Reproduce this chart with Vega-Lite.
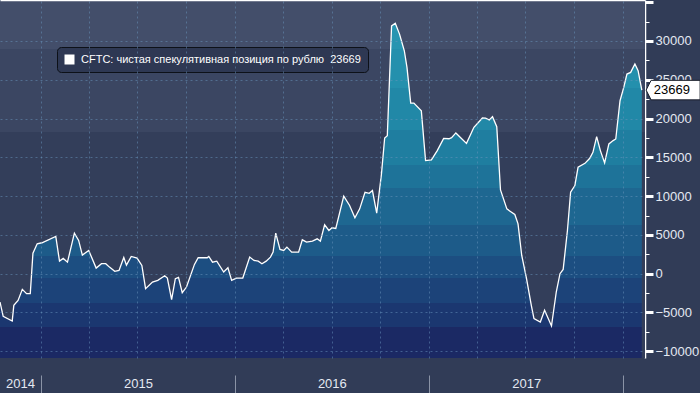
{
  "$schema": "https://vega.github.io/schema/vega-lite/v6.json",
  "width": 645,
  "height": 358,
  "autosize": {"type": "none"},
  "padding": {"left": 0, "top": 0, "right": 55, "bottom": 35},
  "background": "#313c57",
  "config": {
    "view": {"stroke": null},
    "font": "Liberation Sans",
    "axis": {"labelFont": "Liberation Sans"},
    "axisY": {"labelOverlap": false},
    "legend": {
      "orient": "none", "legendX": 57, "legendY": 47,
      "symbolType": "square", "symbolSize": 100,
      "symbolFillColor": "#ffffff", "symbolStrokeColor": "#ffffff", "symbolStrokeWidth": 0,
      "labelColor": "#ffffff", "labelFontSize": 11, "labelFont": "Liberation Sans",
      "fillColor": "#2e3853", "strokeColor": "#0d1118", "cornerRadius": 4,
      "padding": 7, "labelOffset": 6, "labelLimit": 400
    }
  },
  "resolve": {"scale": {"x": "independent", "y": "independent"}},
  "layer": [
    {
      "data": {"values": [{}]},
      "mark": {
        "type": "rect",
        "fill": {
          "gradient": "linear", "x1": 0, "y1": 0, "x2": 0, "y2": 1,
          "stops": [
            {"offset": 0, "color": "#434e6a"},
            {"offset": 0.137, "color": "#434e6a"},
            {"offset": 0.137, "color": "#3b4662"},
            {"offset": 0.369, "color": "#3b4662"},
            {"offset": 0.369, "color": "#333e5a"},
            {"offset": 1, "color": "#333e5a"}
          ]
        }
      },
      "encoding": {
        "x": {
          "datum": {"year": 2014, "month": 10, "date": 16},
          "type": "temporal",
          "scale": {"domain": [{"year": 2014, "month": 10, "date": 16}, {"year": 2018, "month": 2, "date": 11}]},
          "axis": {
            "orient": "bottom", "offset": 17, "domain": false, "grid": false, "title": null,
            "values": [
              {"year": 2014, "month": 10, "date": 16},
              {"year": 2015, "month": 1, "date": 1},
              {"year": 2016, "month": 1, "date": 1},
              {"year": 2017, "month": 1, "date": 1},
              {"year": 2018, "month": 1, "date": 1}
            ],
            "tickSize": 18, "tickColor": "#8a93a6", "tickWidth": 1,
            "tickOpacity": {"condition": {"test": "year(datum.value) == 2014", "value": 0}, "value": 1},
            "labelExpr": "year(datum.value) == 2018 ? '' : timeFormat(datum.value, '%Y')",
            "labelOffset": {"condition": {"test": "year(datum.value) == 2014", "value": 20}, "value": 97},
            "labelPadding": -16, "labelFontSize": 13, "labelColor": "#e4e9f2",
            "labelAlign": "center", "labelFlush": false, "labelOverlap": false, "labelBound": false
          }
        },
        "x2": {"datum": {"year": 2018, "month": 2, "date": 11}},
        "y": {
          "datum": 35285, "type": "quantitative",
          "scale": {"domain": [-10867, 35285], "nice": false, "zero": false},
          "axis": {
            "orient": "left", "title": null,
            "values": [-10000, -5000, 0, 5000, 10000, 15000, 20000, 25000, 30000],
            "labels": false, "ticks": false, "domain": false,
            "grid": true, "gridColor": "#6a95bd", "gridDash": [2, 3], "gridWidth": 1, "gridOpacity": 0.5,
            "zindex": 1
          }
        },
        "y2": {"datum": -10867}
      }
    },
    {
      "data": {"values": [{}]},
      "mark": {"type": "point", "opacity": 0},
      "encoding": {
        "y": {
          "datum": 0, "type": "quantitative",
          "scale": {"domain": [-10867, 35285], "nice": false, "zero": false},
          "axis": {
            "orient": "right", "title": null,
            "values": [-7500, -2500, 2500, 7500, 12500, 17500, 22500, 27500, 32500],
            "labels": false, "domain": false, "grid": false,
            "tickColor": "#ffffff", "tickSize": 4, "tickWidth": 1,
            "zindex": 0
          }
        }
      }
    },
    {
      "data": {"values": [
        {"date": "2014-10-16", "value": -3650},
        {"date": "2014-10-22", "value": -5500},
        {"date": "2014-11-08", "value": -6100},
        {"date": "2014-11-11", "value": -4080},
        {"date": "2014-11-19", "value": -3440},
        {"date": "2014-11-27", "value": -2020},
        {"date": "2014-12-05", "value": -2570},
        {"date": "2014-12-12", "value": -2570},
        {"date": "2014-12-17", "value": 2650},
        {"date": "2014-12-25", "value": 3860},
        {"date": "2015-01-03", "value": 3990},
        {"date": "2015-01-29", "value": 4800},
        {"date": "2015-02-05", "value": 1620},
        {"date": "2015-02-12", "value": 1970},
        {"date": "2015-02-20", "value": 1490},
        {"date": "2015-03-05", "value": 5230},
        {"date": "2015-03-13", "value": 4290},
        {"date": "2015-03-20", "value": 2400},
        {"date": "2015-04-01", "value": 3000},
        {"date": "2015-04-15", "value": 720},
        {"date": "2015-04-25", "value": 1290},
        {"date": "2015-05-03", "value": 1290},
        {"date": "2015-05-10", "value": 850},
        {"date": "2015-05-20", "value": 300},
        {"date": "2015-05-28", "value": 420},
        {"date": "2015-06-06", "value": 2100},
        {"date": "2015-06-11", "value": 1110},
        {"date": "2015-06-20", "value": 2230},
        {"date": "2015-07-01", "value": 2010},
        {"date": "2015-07-10", "value": 1070},
        {"date": "2015-07-17", "value": -1930},
        {"date": "2015-07-30", "value": -1080},
        {"date": "2015-08-09", "value": -860},
        {"date": "2015-08-22", "value": -260},
        {"date": "2015-08-27", "value": -560},
        {"date": "2015-09-04", "value": -3350},
        {"date": "2015-09-11", "value": -640},
        {"date": "2015-09-17", "value": -480},
        {"date": "2015-09-24", "value": -2450},
        {"date": "2015-10-02", "value": -1720},
        {"date": "2015-10-17", "value": 1200},
        {"date": "2015-10-24", "value": 2060},
        {"date": "2015-11-10", "value": 2060},
        {"date": "2015-11-13", "value": 2230},
        {"date": "2015-11-20", "value": 1490},
        {"date": "2015-11-28", "value": 1620},
        {"date": "2015-12-11", "value": 210},
        {"date": "2015-12-19", "value": 770},
        {"date": "2015-12-26", "value": -860},
        {"date": "2016-01-04", "value": -560},
        {"date": "2016-01-16", "value": -560},
        {"date": "2016-01-29", "value": 2140},
        {"date": "2016-02-06", "value": 1710},
        {"date": "2016-02-14", "value": 1620},
        {"date": "2016-02-21", "value": 1290},
        {"date": "2016-02-29", "value": 1620},
        {"date": "2016-03-08", "value": 2140},
        {"date": "2016-03-13", "value": 2780},
        {"date": "2016-03-18", "value": 5230},
        {"date": "2016-03-26", "value": 3130},
        {"date": "2016-04-02", "value": 3000},
        {"date": "2016-04-08", "value": 3430},
        {"date": "2016-04-17", "value": 2780},
        {"date": "2016-04-30", "value": 2780},
        {"date": "2016-05-07", "value": 4370},
        {"date": "2016-05-15", "value": 4070},
        {"date": "2016-05-26", "value": 4200},
        {"date": "2016-06-04", "value": 4500},
        {"date": "2016-06-10", "value": 4200},
        {"date": "2016-06-18", "value": 6300},
        {"date": "2016-06-26", "value": 5570},
        {"date": "2016-07-02", "value": 5920},
        {"date": "2016-07-09", "value": 5830},
        {"date": "2016-07-24", "value": 9990},
        {"date": "2016-08-04", "value": 8790},
        {"date": "2016-08-14", "value": 7200},
        {"date": "2016-08-23", "value": 8360},
        {"date": "2016-09-02", "value": 10500},
        {"date": "2016-09-10", "value": 10370},
        {"date": "2016-09-16", "value": 10720},
        {"date": "2016-09-24", "value": 7800},
        {"date": "2016-10-03", "value": 12870},
        {"date": "2016-10-09", "value": 17500},
        {"date": "2016-10-14", "value": 17800},
        {"date": "2016-10-22", "value": 31950},
        {"date": "2016-10-29", "value": 32300},
        {"date": "2016-11-06", "value": 30890},
        {"date": "2016-11-15", "value": 28740},
        {"date": "2016-11-20", "value": 26600},
        {"date": "2016-11-27", "value": 22000},
        {"date": "2016-12-03", "value": 22000},
        {"date": "2016-12-17", "value": 21000},
        {"date": "2016-12-25", "value": 14580},
        {"date": "2017-01-05", "value": 14670},
        {"date": "2017-01-16", "value": 15870},
        {"date": "2017-01-28", "value": 17450},
        {"date": "2017-02-07", "value": 17400},
        {"date": "2017-02-12", "value": 17540},
        {"date": "2017-02-20", "value": 18150},
        {"date": "2017-03-03", "value": 17400},
        {"date": "2017-03-12", "value": 16800},
        {"date": "2017-03-26", "value": 18870},
        {"date": "2017-04-11", "value": 20080},
        {"date": "2017-04-17", "value": 20060},
        {"date": "2017-04-24", "value": 19820},
        {"date": "2017-04-30", "value": 20250},
        {"date": "2017-05-08", "value": 18960},
        {"date": "2017-05-15", "value": 10800},
        {"date": "2017-05-27", "value": 8360},
        {"date": "2017-06-02", "value": 8060},
        {"date": "2017-06-11", "value": 7630},
        {"date": "2017-06-17", "value": 6430},
        {"date": "2017-06-24", "value": 2350},
        {"date": "2017-07-03", "value": -640},
        {"date": "2017-07-12", "value": -4080},
        {"date": "2017-07-17", "value": -5790},
        {"date": "2017-07-29", "value": -6230},
        {"date": "2017-08-06", "value": -4720},
        {"date": "2017-08-19", "value": -6740},
        {"date": "2017-08-28", "value": -2360},
        {"date": "2017-09-04", "value": 0},
        {"date": "2017-09-10", "value": 550},
        {"date": "2017-09-18", "value": 5570},
        {"date": "2017-09-24", "value": 10500},
        {"date": "2017-10-02", "value": 11360},
        {"date": "2017-10-08", "value": 13720},
        {"date": "2017-10-21", "value": 14230},
        {"date": "2017-10-30", "value": 14880},
        {"date": "2017-11-05", "value": 15650},
        {"date": "2017-11-12", "value": 17670},
        {"date": "2017-11-19", "value": 15870},
        {"date": "2017-11-27", "value": 14290},
        {"date": "2017-12-05", "value": 16730},
        {"date": "2017-12-13", "value": 17160},
        {"date": "2017-12-18", "value": 17370},
        {"date": "2017-12-26", "value": 22300},
        {"date": "2018-01-02", "value": 24010},
        {"date": "2018-01-08", "value": 25740},
        {"date": "2018-01-15", "value": 25950},
        {"date": "2018-01-23", "value": 27030},
        {"date": "2018-01-29", "value": 26170},
        {"date": "2018-02-05", "value": 23669}
      ]},
      "encoding": {
        "x": {
          "field": "date", "type": "temporal",
          "scale": {"domain": [{"year": 2014, "month": 10, "date": 16}, {"year": 2018, "month": 2, "date": 11}]},
          "axis": {
            "title": null, "labels": false,
            "domain": true, "domainColor": "#ffffff", "domainWidth": 1.5,
            "tickCount": {"interval": "month", "step": 1},
            "tickColor": "#ffffff", "tickSize": 4, "tickWidth": 1.5,
            "grid": true, "gridColor": "#6a95bd", "gridDash": [2, 3], "gridWidth": 1,
            "gridOpacity": {"condition": {"test": "month(datum.value) % 3 == 0", "value": 0.5}, "value": 0},
            "zindex": 1
          }
        },
        "y": {
          "field": "value", "type": "quantitative",
          "scale": {"domain": [-10867, 35285], "nice": false, "zero": false},
          "axis": {
            "orient": "right", "title": null,
            "values": [-10000, -5000, 0, 5000, 10000, 15000, 20000, 25000, 30000, 35000],
            "labelExpr": "datum.value > 32000 ? '' : format(datum.value, 'd')",
            "labelFontSize": 13, "labelColor": "#e4e9f2", "labelPadding": 2,
            "domain": true, "domainColor": "#ffffff", "domainWidth": 1.5,
            "tickColor": "#ffffff", "tickSize": 8, "tickWidth": 3,
            "grid": false,
            "labelOverlap": false, "labelFlush": false, "labelBound": false,
            "zindex": 0
          }
        }
      },
      "layer": [
        {
          "mark": {
            "type": "area",
            "fill": {
              "gradient": "linear", "x1": 0, "y1": 0, "x2": 0, "y2": 1,
              "stops": [
                {"offset": 0, "color": "#2895b1"},
                {"offset": 0.0773, "color": "#2895b1"},
                {"offset": 0.0773, "color": "#2490ad"},
                {"offset": 0.1938, "color": "#2490ad"},
                {"offset": 0.1938, "color": "#2188a7"},
                {"offset": 0.3192, "color": "#2188a7"},
                {"offset": 0.3192, "color": "#1f7ea0"},
                {"offset": 0.4237, "color": "#1f7ea0"},
                {"offset": 0.4237, "color": "#1e7399"},
                {"offset": 0.4924, "color": "#1e7399"},
                {"offset": 0.4924, "color": "#1e6791"},
                {"offset": 0.6029, "color": "#1e6791"},
                {"offset": 0.6029, "color": "#1d5b89"},
                {"offset": 0.6954, "color": "#1d5b89"},
                {"offset": 0.6954, "color": "#1c4e81"},
                {"offset": 0.7611, "color": "#1c4e81"},
                {"offset": 0.7611, "color": "#1c4379"},
                {"offset": 0.8358, "color": "#1c4379"},
                {"offset": 0.8358, "color": "#1b3770"},
                {"offset": 0.9074, "color": "#1b3770"},
                {"offset": 0.9074, "color": "#1b2964"},
                {"offset": 1, "color": "#1b2964"}
              ]
            }
          },
          "encoding": {
            "y2": {"datum": -10867}
          }
        },
        {
          "mark": {"type": "line", "strokeWidth": 1.3},
          "encoding": {
            "color": {
              "datum": "CFTC: чистая спекулятивная позиция по рублю\u00a0 23669",
              "scale": {"range": ["#ffffff"]},
              "legend": {"title": null}
            }
          }
        },
        {
          "transform": [{"filter": {"field": "value", "equal": 23669}}],
          "mark": {
            "type": "point",
            "shape": "M -1 0 L -0.815 -0.361 L 1 -0.361 L 1 0.361 L -0.815 0.361 Z",
            "size": 2916, "filled": true, "fill": "#ffffff", "stroke": "#1a1f2b",
            "strokeWidth": 1, "opacity": 1, "xOffset": 31.3
          }
        },
        {
          "transform": [{"filter": {"field": "value", "equal": 23669}}],
          "mark": {
            "type": "text", "align": "left", "baseline": "middle", "dx": 12,
            "fontSize": 13, "color": "#000000", "font": "Liberation Sans"
          },
          "encoding": {
            "text": {"field": "value", "type": "quantitative", "format": "d"}
          }
        }
      ]
    }
  ]
}
